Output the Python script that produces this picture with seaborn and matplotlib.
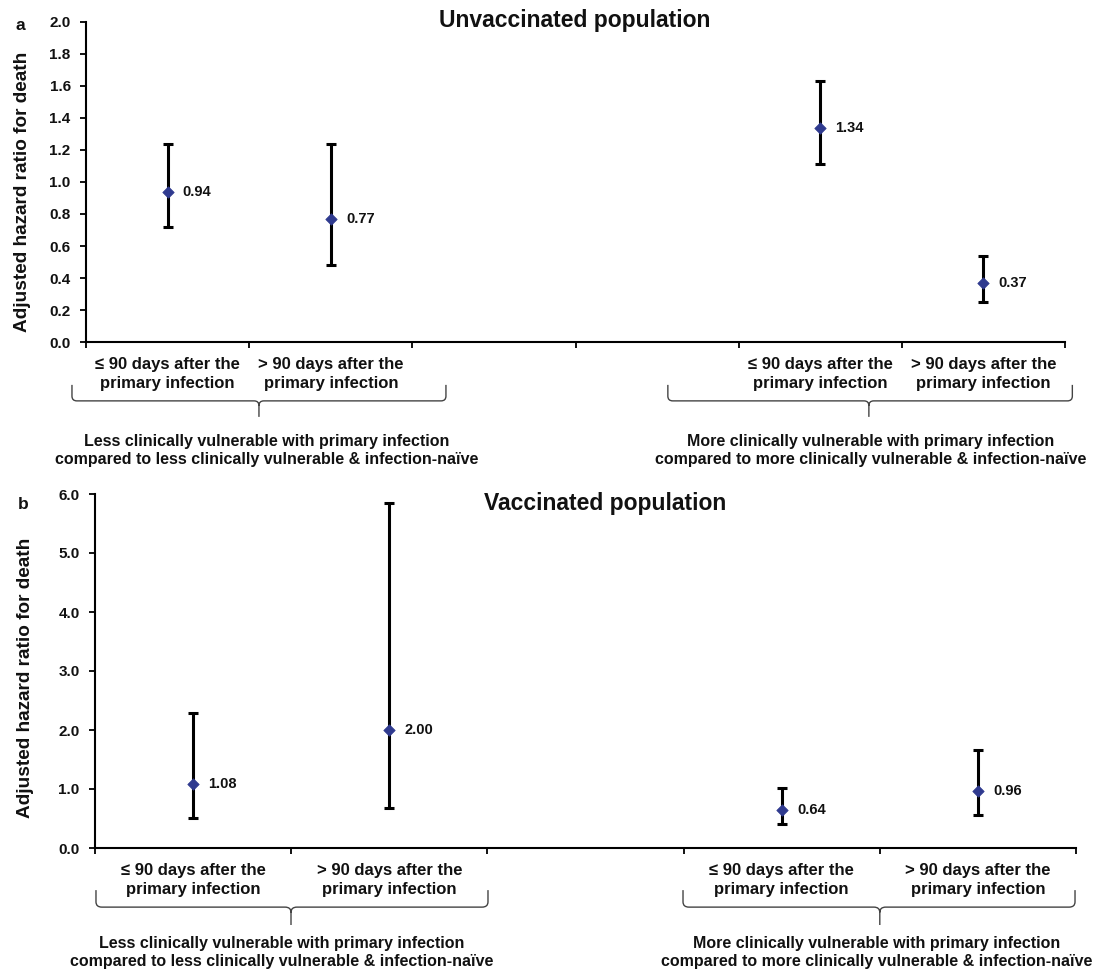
import numpy as np
import pandas as pd
import matplotlib
matplotlib.use("Agg")
import matplotlib.pyplot as plt
from matplotlib.path import Path
from matplotlib.patches import PathPatch
import seaborn as sns

# ---- data -------------------------------------------------------------
LE90 = "\u2264 90 days after the\nprimary infection"
GT90 = "> 90 days after the\nprimary infection"

# panel a: unvaccinated (two empty slots between the groups)
a_slots = ["less_le90", "less_gt90", "gap1", "gap2", "more_le90", "more_gt90"]
a_groups = ["less_le90", "less_gt90", "more_le90", "more_gt90"]
a_labels = [LE90, GT90, LE90, GT90]
a_hr = [0.94, 0.77, 1.34, 0.37]
a_lo = [0.72, 0.48, 1.11, 0.25]
a_hi = [1.24, 1.24, 1.63, 0.54]
a_yticks = [0.0, 0.2, 0.4, 0.6, 0.8, 1.0, 1.2, 1.4, 1.6, 1.8, 2.0]

# panel b: vaccinated (one empty slot between the groups)
b_slots = ["less_le90", "less_gt90", "gap1", "more_le90", "more_gt90"]
b_groups = ["less_le90", "less_gt90", "more_le90", "more_gt90"]
b_labels = [LE90, GT90, LE90, GT90]
b_hr = [1.08, 2.00, 0.64, 0.96]
b_lo = [0.51, 0.68, 0.40, 0.56]
b_hi = [2.29, 5.84, 1.01, 1.66]
b_yticks = [0.0, 1.0, 2.0, 3.0, 4.0, 5.0, 6.0]

group_less = "Less clinically vulnerable with primary infection\ncompared to less clinically vulnerable & infection-na\u00efve"
group_more = "More clinically vulnerable with primary infection\ncompared to more clinically vulnerable & infection-na\u00efve"

MARKER = "#2F3A8F"
INK = "#111111"

sns.set_theme(style="white")
plt.rcParams["font.family"] = ["Liberation Sans", "DejaVu Sans"]
plt.rcParams["font.weight"] = "bold"
plt.rcParams["text.color"] = INK
plt.rcParams["axes.labelcolor"] = INK
plt.rcParams["xtick.color"] = INK
plt.rcParams["ytick.color"] = INK


def brace(ax, x0, x1, xm, ytop, ybot, ystem, dx=0.03, dy=0.015):
    """Curly bracket under the axis: x in data units, y in axes fraction."""
    verts = [(x0, ytop), (x0, ybot + dy), (x0, ybot), (x0 + dx, ybot),
             (xm - dx, ybot), (xm, ybot), (xm, ybot - dy), (xm, ystem),
             (xm, ybot - dy), (xm, ybot), (xm + dx, ybot),
             (x1 - dx, ybot), (x1, ybot), (x1, ybot + dy), (x1, ytop)]
    codes = [Path.MOVETO, Path.LINETO, Path.CURVE3, Path.CURVE3,
             Path.LINETO, Path.CURVE3, Path.CURVE3, Path.LINETO,
             Path.MOVETO, Path.CURVE3, Path.CURVE3,
             Path.LINETO, Path.CURVE3, Path.CURVE3, Path.LINETO]
    patch = PathPatch(Path(verts, codes), transform=ax.get_xaxis_transform(),
                      fill=False, lw=1.0, edgecolor="#444444", clip_on=False)
    ax.add_patch(patch)


def draw_panel(ax, slots, groups, labels, hr, lo, hi, yticks):
    df = pd.DataFrame({"group": groups, "hr": hr, "lo": lo, "hi": hi})
    df["x"] = [slots.index(g) for g in df["group"]]

    ax.errorbar(df["x"], df["hr"], yerr=[df["hr"] - df["lo"], df["hi"] - df["hr"]],
                fmt="none", ecolor="black", elinewidth=2.2, capsize=3.4,
                capthick=2.2, zorder=2)
    sns.scatterplot(data=df, x="x", y="hr", marker="D", s=34, color=MARKER,
                    edgecolor=MARKER, linewidth=0.5, zorder=3, ax=ax)
    for _, r in df.iterrows():
        ax.annotate(f"{r['hr']:.2f}", (r["x"], r["hr"]), xytext=(11, 0),
                    textcoords="offset points", va="center", ha="left",
                    fontsize=10.5, fontweight="bold", color=INK)

    n = len(slots)
    ax.set_xlim(-0.5, n - 0.5)
    ax.set_ylim(yticks[0], yticks[-1])
    ax.set_yticks(yticks)
    ax.set_yticklabels([f"{t:.1f}" for t in yticks], fontsize=11, fontweight="bold")
    ax.set_xticks(np.arange(n + 1) - 0.5)
    ax.set_xticklabels([])
    ax.set_xticks(df["x"], minor=True)
    ax.set_xticklabels(labels, minor=True, fontsize=12, fontweight="bold",
                       linespacing=1.35)
    ax.tick_params(axis="x", which="major", direction="out", length=4,
                   width=1.3, color="black", bottom=True)
    ax.tick_params(axis="x", which="minor", length=0, pad=11, bottom=True)
    ax.tick_params(axis="y", direction="out", length=4, width=1.3,
                   color="black", pad=7, left=True)
    for s in ["top", "right"]:
        ax.spines[s].set_visible(False)
    for s in ["left", "bottom"]:
        ax.spines[s].set_linewidth(1.5)
        ax.spines[s].set_color("black")
    ax.set_xlabel("")
    ax.set_ylabel("Adjusted hazard ratio for death", fontsize=13.7,
                  fontweight="bold")
    return df


fig = plt.figure(figsize=(10.93, 9.71), dpi=100)
W, H = 1093, 971

# ---- panel a ----
ax_a = fig.add_axes([86 / W, 1 - 342 / H, 979 / W, 320 / H])
draw_panel(ax_a, a_slots, a_groups, a_labels, a_hr, a_lo, a_hi, a_yticks)
ax_a.yaxis.set_label_coords(-0.056, 0.47)
brace(ax_a, -0.586, 1.706, 0.56, -0.134, -0.184, -0.234)
brace(ax_a, 3.066, 5.545, 4.298, -0.134, -0.184, -0.234)
ax_a.text(0.61, -0.339, group_less, transform=ax_a.get_xaxis_transform(),
          ha="center", va="center", fontsize=11.5, fontweight="bold",
          linespacing=1.25)
ax_a.text(4.31, -0.339, group_more, transform=ax_a.get_xaxis_transform(),
          ha="center", va="center", fontsize=11.5, fontweight="bold",
          linespacing=1.25)
fig.text(575 / W, 1 - 20 / H, "Unvaccinated population", ha="center",
         va="center", fontsize=16.5, fontweight="bold")
fig.text(20 / W, 1 - 25 / H, "a", ha="center", va="center", fontsize=12.5,
         fontweight="bold")

# ---- panel b ----
ax_b = fig.add_axes([95 / W, 1 - 848 / H, 981 / W, 354 / H])
draw_panel(ax_b, b_slots, b_groups, b_labels, b_hr, b_lo, b_hi, b_yticks)
ax_b.yaxis.set_label_coords(-0.062, 0.48)
brace(ax_b, -0.495, 1.503, 0.499, -0.119, -0.167, -0.2175)
brace(ax_b, 2.497, 4.495, 3.5, -0.119, -0.167, -0.2175)
ax_b.text(0.453, -0.295, group_less, transform=ax_b.get_xaxis_transform(),
          ha="center", va="center", fontsize=11.5, fontweight="bold",
          linespacing=1.25)
ax_b.text(3.486, -0.295, group_more, transform=ax_b.get_xaxis_transform(),
          ha="center", va="center", fontsize=11.5, fontweight="bold",
          linespacing=1.25)
fig.text(605 / W, 1 - 503 / H, "Vaccinated population", ha="center",
         va="center", fontsize=16.5, fontweight="bold")
fig.text(23 / W, 1 - 504 / H, "b", ha="center", va="center", fontsize=12.5,
         fontweight="bold")

fig.savefig("out.png", dpi=100)
